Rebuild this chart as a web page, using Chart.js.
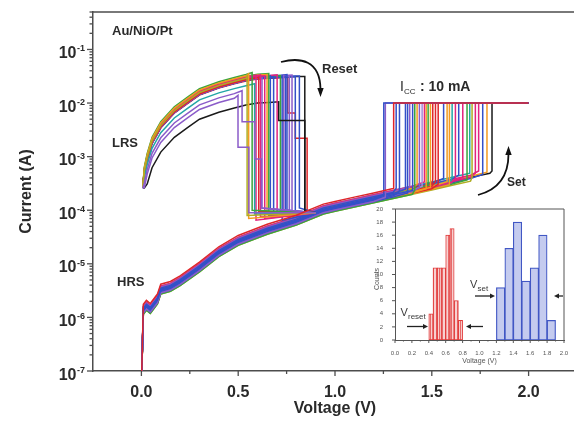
<!DOCTYPE html>
<html>
<head>
<meta charset="utf-8">
<script src="https://cdn.jsdelivr.net/npm/chart.js@4.4.0/dist/chart.umd.min.js"></script>
<style>
  html, body { margin: 0; padding: 0; background: #fff; overflow: hidden; }
  #wrap { position: relative; width: 574px; height: 421px; overflow: hidden; }
  #main { position: absolute; left: 0; top: 0; }
  #inset { position: absolute; left: 355px; top: 200px; }
</style>
</head>
<body>
<div id="wrap">
  <canvas id="main" width="578" height="421"></canvas>
  <canvas id="inset" width="216" height="172"></canvas>
</div>
<script>
// ---- main I-V plot: shapes ----
// LRS branch (upper envelope of the bundle)
const lrsV = [0.007, 0.015, 0.03, 0.055, 0.1, 0.17, 0.24, 0.3, 0.4, 0.48, 0.54, 0.6, 0.66, 0.72, 0.8, 0.87];
const lrsI = [2.6e-4, 6.4e-4, 1.15e-3, 2.3e-3, 4.5e-3, 8.5e-3, 1.3e-2, 1.85e-2, 2.5e-2, 3.0e-2, 3.4e-2, 3.7e-2, 3.8e-2, 3.9e-2, 4.0e-2, 4.0e-2];
// HRS branch
const hrsV = [0, 0.01, 0.026, 0.046, 0.083, 0.1, 0.15, 0.2, 0.3, 0.4, 0.5, 0.65, 0.8, 0.94, 1.0, 1.1, 1.2, 1.3, 1.4, 1.5, 1.6, 1.7, 1.8, 1.85];
const hrsI = [5e-8, 1.35e-6, 1.6e-6, 1.4e-6, 2.1e-6, 3.2e-6, 3.6e-6, 4.6e-6, 8.3e-6, 1.6e-5, 2.6e-5, 4.2e-5, 6.2e-5, 1.0e-4, 1.12e-4, 1.35e-4, 1.62e-4, 1.95e-4, 2.34e-4, 2.8e-4, 3.4e-4, 4.1e-4, 4.9e-4, 5.4e-4];

// reset sweeps: voltage of the drop, LRS level relative to envelope, colour, level after the drop
const resetV = [0.499, 0.520, 0.546, 0.554, 0.572, 0.585, 0.592, 0.606, 0.615, 0.623, 0.637, 0.649, 0.658, 0.666, 0.683, 0.701, 0.709, 0.718, 0.727, 0.735, 0.744, 0.752, 0.764, 0.778, 0.795, 0.816, 0.844, 0.756];
const resetScale = [0.41, 0.5, 0.85, 0.95, 1.0, 0.62, 0.9, 0.8, 0.88, 0.78, 0.85, 0.9, 0.93, 0.82, 0.8, 0.86, 0.27, 0.84, 0.8, 0.82, 0.78, 0.85, 0.8, 0.83, 0.78, 0.8, 0.78, 0.76];
const resetColor = ['purple', 'purple', 'olive', 'orange', 'green', 'teal', 'magenta', 'red', 'magenta', 'purple', 'magenta', 'orange', 'green', 'blue', 'blue', 'magenta', 'black', 'green', 'blue', 'purple', 'blue', 'blue', 'purple', 'purple', 'blue', 'blue', 'black', 'red'];
const resetLow = [9e-5, 1.1e-4, 8e-5, 7e-5, 1.0e-4, 8.5e-5, 6.5e-5, 9.5e-5, 7.5e-5, 1.1e-4, 7e-5, 9e-5, 8e-5, 1.05e-4, 7.5e-5, 9e-5, 1.0e-4, 8e-5, 6.5e-5, 9.5e-5, 8.5e-5, 1.0e-4, 7.5e-5, 9e-5, 8e-5, 1.1e-4, 9e-5, 8.5e-5];
// partial (stepwise) resets: which sweep, intermediate level, voltage where it ends
const stepCycle = [0, 1, 1, 16, 27, 27];
const stepLevel = [1.5e-3, 4.5e-3, 9e-4, 4.7e-3, 6.5e-3, 2.2e-3];
const stepEnd = [0.555, 0.585, 0.62, 0.844, 0.795, 0.856];
const resetEndV = 0.9;
const resetEndI = 9e-5;

// set sweeps: set voltage, HRS level relative to base, colour
const setV = [1.252, 1.260, 1.303, 1.316, 1.333, 1.364, 1.375, 1.386, 1.401, 1.412, 1.424, 1.436, 1.450, 1.462, 1.471, 1.481, 1.493, 1.505, 1.519, 1.533, 1.561, 1.579, 1.591, 1.605, 1.622, 1.639, 1.660, 1.682, 1.696, 1.708, 1.725, 1.742, 1.763, 1.785, 1.811];
const setScale = [1.0, 0.9, 1.3, 1.1, 0.95, 1.05, 0.9, 1.15, 1.0, 0.85, 1.1, 0.95, 1.0, 1.2, 0.9, 1.05, 0.95, 1.1, 1.0, 0.9, 1.15, 1.0, 0.88, 1.05, 0.95, 1.1, 1.0, 0.9, 1.2, 0.85, 1.0, 1.1, 0.95, 1.05, 1.0];
const setColor = ['blue', 'purple', 'red', 'blue', 'blue', 'blue', 'blue', 'purple', 'blue', 'green', 'orange', 'purple', 'lavender', 'magenta', 'orange', 'green', 'orange', 'red', 'red', 'red', 'blue', 'orange', 'orange', 'teal', 'magenta', 'blue', 'magenta', 'green', 'teal', 'olive', 'magenta', 'magenta', 'blue', 'orange', 'black'];
const iccLimit = 0.01;
const sweepEndV = 2.0;

const xTicks = [0, 0.5, 1.0, 1.5, 2.0];
const yDecades = [1e-7, 1e-6, 1e-5, 1e-4, 1e-3, 1e-2, 1e-1];

// ---- inset histogram ----
const resetBins = [0.425, 0.475, 0.525, 0.575, 0.625, 0.675, 0.725, 0.775];
const resetCounts = [4, 11, 11, 11, 16, 17, 6, 3];
const setBins = [1.25, 1.35, 1.45, 1.55, 1.65, 1.75, 1.85];
const setCounts = [8, 14, 18, 9, 11, 16, 3];
const insetXTicks = [0, 0.2, 0.4, 0.6, 0.8, 1.0, 1.2, 1.4, 1.6, 1.8, 2.0];

const family = "'Liberation Sans', Arial, Helvetica, sans-serif";
const axisColor = '#4d4d4d';
const textColor = '#2a2a2a';
const palette = {
  blue: '#3350c8', red: '#e0262a', green: '#3ba53b', magenta: '#e2247e',
  purple: '#8b5cc9', orange: '#f39b22', teal: '#22a6a6', olive: '#b0ad22',
  black: '#1a1a1a', lavender: '#a58ad8'
};

function lrsBranch(scale, vEnd) {
  const pts = [{ x: lrsV[0], y: lrsI[0] }];
  for (let i = 1; i < lrsV.length; i++) {
    const y = Math.max(lrsI[i] * scale, lrsI[0]);
    if (lrsV[i] >= vEnd) { pts.push({ x: vEnd, y }); break; }
    pts.push({ x: lrsV[i], y });
  }
  return pts;
}

function hrsBranch(scale, vEnd) {
  const pts = [{ x: hrsV[0], y: hrsI[0] }];
  for (let i = 1; i < hrsV.length; i++) {
    if (hrsV[i] >= vEnd) { pts.push({ x: vEnd, y: hrsI[i] * scale }); break; }
    pts.push({ x: hrsV[i], y: hrsI[i] * scale });
  }
  return pts;
}

const datasets = [];
resetV.forEach((v, k) => {
  const pts = lrsBranch(resetScale[k], v);
  let last = v;
  stepCycle.forEach((c, j) => {
    if (c === k) {
      pts.push({ x: last, y: stepLevel[j] }, { x: stepEnd[j], y: stepLevel[j] });
      last = stepEnd[j];
    }
  });
  pts.push({ x: last, y: resetLow[k] }, { x: resetEndV, y: resetEndI });
  datasets.push({ data: pts, borderColor: palette[resetColor[k]] });
});
setV.forEach((v, k) => {
  const pts = hrsBranch(setScale[k], v);
  pts.push({ x: v, y: iccLimit }, { x: sweepEndV, y: iccLimit });
  datasets.push({ data: pts, borderColor: palette[setColor[k]], order: k === 2 ? -1 : 0 });
});

function seg(ctx, x1, y1, x2, y2) {
  ctx.beginPath(); ctx.moveTo(x1, y1); ctx.lineTo(x2, y2); ctx.stroke();
}

function head(ctx, tx, ty, dx, dy, len, wid) {
  // filled arrow head with tip at (tx,ty), pointing along (dx,dy)
  const n = Math.hypot(dx, dy); dx /= n; dy /= n;
  ctx.beginPath();
  ctx.moveTo(tx, ty);
  ctx.lineTo(tx - dx * len - dy * wid, ty - dy * len + dx * wid);
  ctx.lineTo(tx - dx * len + dy * wid, ty - dy * len - dx * wid);
  ctx.closePath(); ctx.fill();
}

const mainDecor = {
  id: 'mainDecor',
  afterDraw(chart) {
    const { ctx, chartArea: a, scales: { x, y } } = chart;
    ctx.save();
    ctx.strokeStyle = axisColor;
    ctx.lineWidth = 1.5;
    ctx.beginPath();
    ctx.moveTo(a.left, a.top); ctx.lineTo(a.right, a.top); ctx.lineTo(a.right, a.bottom);
    ctx.stroke();

    // tick marks
    ctx.lineWidth = 1.3;
    yDecades.forEach(d => {
      const p = y.getPixelForValue(d);
      seg(ctx, a.left - 6, p, a.left, p);
      for (let k = 2; k <= 9; k++) {
        if (d * k > y.max) break;
        const q = y.getPixelForValue(d * k);
        seg(ctx, a.left - 3.5, q, a.left, q);
      }
    });
    xTicks.forEach(v => {
      const p = x.getPixelForValue(v);
      seg(ctx, p, a.bottom, p, a.bottom + 5);
      const m = x.getPixelForValue(v + 0.25);
      seg(ctx, m, a.bottom, m, a.bottom + 3);
    });

    // decade labels with superscript exponents
    ctx.fillStyle = textColor;
    ctx.textAlign = 'right';
    ctx.textBaseline = 'alphabetic';
    yDecades.forEach(d => {
      const p = y.getPixelForValue(d);
      const sup = String(Math.round(Math.log10(d)));
      ctx.font = `bold 9px ${family}`;
      const sw = ctx.measureText(sup).width;
      ctx.fillText(sup, a.left - 8, p + 2);
      ctx.font = `bold 16px ${family}`;
      ctx.fillText('10', a.left - 8 - sw - 0.5, p + 8.5);
    });

    // axis titles
    ctx.font = `bold 16px ${family}`;
    ctx.textAlign = 'center';
    ctx.textBaseline = 'middle';
    ctx.fillText('Voltage (V)', (a.left + a.right) / 2, 409);
    ctx.save();
    ctx.translate(27, (a.top + a.bottom) / 2);
    ctx.rotate(-Math.PI / 2);
    ctx.fillText('Current (A)', 0, 0);
    ctx.restore();

    // annotations
    ctx.textAlign = 'left';
    ctx.textBaseline = 'alphabetic';
    ctx.font = `bold 13px ${family}`;
    ctx.fillText('Au/NiO/Pt', 112, 35);
    ctx.fillText('LRS', 112, 147);
    ctx.fillText('HRS', 117, 286);
    ctx.fillText('Reset', 322, 73);
    ctx.font = `14px ${family}`;
    ctx.fillText('I', 400, 91);
    ctx.font = `8px ${family}`;
    ctx.fillText('CC', 404, 94);
    ctx.font = `bold 14px ${family}`;
    ctx.fillText(' : 10 mA', 416, 91);
    ctx.font = `bold 12px ${family}`;
    ctx.fillText('Set', 507, 186);

    // curved arrows
    ctx.strokeStyle = '#111';
    ctx.fillStyle = '#111';
    ctx.lineWidth = 1.8;
    ctx.beginPath();
    ctx.moveTo(281, 62);
    ctx.bezierCurveTo(300, 57, 320, 60, 320.5, 89);
    ctx.stroke();
    head(ctx, 320.5, 97, 0, 1, 9, 3.2);
    ctx.beginPath();
    ctx.moveTo(478, 195);
    ctx.bezierCurveTo(497, 190, 508.5, 178, 508.5, 154);
    ctx.stroke();
    head(ctx, 508.5, 146, 0, -1, 9, 3.2);
    ctx.restore();
  }
};

new Chart(document.getElementById('main'), {
  type: 'line',
  data: { datasets },
  options: {
    responsive: false,
    animation: false,
    events: [],
    layout: { padding: { left: 0, top: 12, right: 1, bottom: 0 } },
    plugins: { legend: { display: false }, tooltip: { enabled: false } },
    elements: {
      point: { radius: 0 },
      line: { borderWidth: 1.5, tension: 0, fill: false }
    },
    scales: {
      x: {
        type: 'linear', min: -0.25, max: 2.25,
        grid: { display: false },
        border: { color: axisColor, width: 1.5 },
        afterBuildTicks: s => { s.ticks = xTicks.map(v => ({ value: v })); },
        ticks: {
          font: { family, size: 16, weight: 'bold' }, color: textColor,
          padding: 4, maxRotation: 0, autoSkip: false,
          callback: v => Number(v).toFixed(1)
        },
        afterFit: s => { s.height = 50; }
      },
      y: {
        type: 'logarithmic', min: 1e-7, max: 0.5,
        grid: { display: false },
        border: { color: axisColor, width: 1.5 },
        afterBuildTicks: s => { s.ticks = yDecades.map(v => ({ value: v })); },
        ticks: { callback: () => '', font: { size: 8 } },
        afterFit: s => { s.width = 93; }
      }
    }
  },
  plugins: [mainDecor]
});

// ---- inset ----
const pc = document.createElement('canvas');
pc.width = 3; pc.height = 3;
const pg = pc.getContext('2d');
pg.fillStyle = '#f8d0d0'; pg.fillRect(0, 0, 3, 3);
pg.fillStyle = '#e66a6a'; pg.fillRect(0, 0, 1, 3);
const hatch = pg.createPattern(pc, 'repeat');

function insetArrow(ctx, x1, y1, x2) {
  seg(ctx, x1, y1, x2 - Math.sign(x2 - x1) * 4, y1);
  head(ctx, x2, y1, x2 - x1, 0, 5, 2.4);
}

const insetDecor = {
  id: 'insetDecor',
  afterDraw(chart) {
    const { ctx, chartArea: a, scales: { x, y } } = chart;
    ctx.save();
    ctx.strokeStyle = '#555';
    ctx.lineWidth = 1;
    ctx.beginPath();
    ctx.moveTo(a.left, a.top); ctx.lineTo(a.right, a.top); ctx.lineTo(a.right, a.bottom);
    ctx.stroke();
    y.ticks.forEach(t => {
      const p = y.getPixelForValue(t.value);
      seg(ctx, a.left - 3, p, a.left, p);
    });
    insetXTicks.forEach(v => {
      const p = x.getPixelForValue(v);
      seg(ctx, p, a.bottom, p, a.bottom + 3);
      if (v < 2) {
        const m = x.getPixelForValue(v + 0.1);
        seg(ctx, m, a.bottom, m, a.bottom + 1.5);
      }
    });

    ctx.fillStyle = '#555';
    ctx.font = `7px ${family}`;
    ctx.textAlign = 'center';
    ctx.textBaseline = 'middle';
    ctx.fillText('Voltage (V)', (a.left + a.right) / 2, 161.5);
    ctx.save();
    ctx.translate(22, 79);
    ctx.rotate(-Math.PI / 2);
    ctx.fillText('Counts', 0, 0);
    ctx.restore();

    ctx.fillStyle = '#3a3a3a';
    ctx.textAlign = 'left';
    ctx.textBaseline = 'alphabetic';
    ctx.font = `11px ${family}`;
    ctx.fillText('V', 45.5, 115.5);
    ctx.fillText('V', 115, 87.5);
    ctx.font = `8px ${family}`;
    ctx.fillText('reset', 53, 118.5);
    ctx.fillText('set', 122.5, 90.5);

    ctx.strokeStyle = '#222';
    ctx.fillStyle = '#222';
    ctx.lineWidth = 1.3;
    insetArrow(ctx, 52, 126.5, 73);
    insetArrow(ctx, 128, 126.5, 111);
    insetArrow(ctx, 120, 96, 140);
    insetArrow(ctx, 208, 96, 199);
    ctx.restore();
  }
};

new Chart(document.getElementById('inset'), {
  type: 'bar',
  data: {
    datasets: [
      {
        data: resetBins.map((v, i) => ({ x: v, y: resetCounts[i] })),
        backgroundColor: hatch, borderColor: '#e23a3a', borderWidth: 1,
        borderSkipped: false, grouped: false, barThickness: 4.25
      },
      {
        data: setBins.map((v, i) => ({ x: v, y: setCounts[i] })),
        backgroundColor: '#c4cbef', borderColor: '#4157c4', borderWidth: 1.2,
        borderSkipped: false, grouped: false, barThickness: 8.5
      }
    ]
  },
  options: {
    responsive: false,
    animation: false,
    events: [],
    layout: { padding: { left: 0, top: 9, right: 7, bottom: 0 } },
    plugins: { legend: { display: false }, tooltip: { enabled: false } },
    scales: {
      x: {
        type: 'linear', min: 0, max: 2, offset: false,
        grid: { display: false, offset: false },
        border: { color: '#555', width: 1 },
        afterBuildTicks: s => { s.ticks = insetXTicks.map(v => ({ value: v })); },
        ticks: {
          font: { family, size: 6 }, color: '#555', padding: 2,
          maxRotation: 0, autoSkip: false, callback: v => Number(v).toFixed(1)
        },
        afterFit: s => { s.height = 32; }
      },
      y: {
        min: 0, max: 20,
        grid: { display: false },
        border: { color: '#555', width: 1 },
        ticks: { stepSize: 2, font: { family, size: 6 }, color: '#555', padding: 4 },
        afterFit: s => { s.width = 40; }
      }
    }
  },
  plugins: [insetDecor]
});
</script>
</body>
</html>
